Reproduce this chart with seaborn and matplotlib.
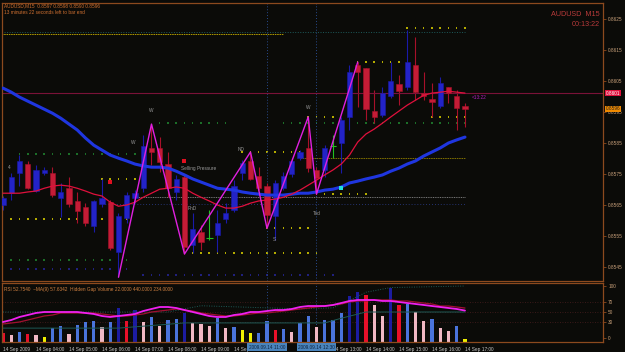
import matplotlib
matplotlib.use("Agg")
import matplotlib.pyplot as plt
import seaborn as sns
import numpy as np
import pandas as pd
from matplotlib.transforms import blended_transform_factory

# AUDUSD M15, 14 Sep 2009 03:00 .. 17:00 (one bar per 15 minutes)
open_ = [0.85650, 0.85688, 0.85753, 0.85782, 0.85695, 0.85753, 0.85753, 0.85672, 0.85704, 0.85663,
         0.85643, 0.85582, 0.85653, 0.85659, 0.85498, 0.85608, 0.85672, 0.85704, 0.85834, 0.85834,
         0.85782, 0.85692, 0.85740, 0.85520, 0.85562, 0.85543, 0.85553, 0.85604, 0.85634, 0.85753,
         0.85792, 0.85743, 0.85711, 0.85615, 0.85704, 0.85750, 0.85801, 0.85834, 0.85763, 0.85763,
         0.85840, 0.85850, 0.85934, 0.86101, 0.86092, 0.85953, 0.85940, 0.86001, 0.86040, 0.86030,
         0.86101, 0.86011, 0.85992, 0.85969, 0.86030, 0.86001, 0.85970]
high = [0.85679, 0.85753, 0.85811, 0.85792, 0.85779, 0.85772, 0.85772, 0.85721, 0.85740, 0.85692,
        0.85656, 0.85666, 0.85734, 0.85666, 0.85624, 0.85692, 0.85698, 0.85875, 0.85911, 0.85869,
        0.85821, 0.85747, 0.85747, 0.85624, 0.85585, 0.85634, 0.85634, 0.85656, 0.85730, 0.85795,
        0.85821, 0.85772, 0.85721, 0.85730, 0.85756, 0.85801, 0.85827, 0.85934, 0.85772, 0.85843,
        0.85875, 0.85934, 0.86101, 0.86111, 0.86092, 0.86021, 0.86030, 0.86111, 0.86069, 0.86214,
        0.86192, 0.86079, 0.86043, 0.86063, 0.86030, 0.86021, 0.85980]
low = [0.85634, 0.85666, 0.85711, 0.85701, 0.85692, 0.85747, 0.85675, 0.85611, 0.85643, 0.85591,
       0.85582, 0.85562, 0.85643, 0.85506, 0.85417, 0.85591, 0.85656, 0.85692, 0.85779, 0.85756,
       0.85675, 0.85666, 0.85492, 0.85495, 0.85506, 0.85537, 0.85498, 0.85591, 0.85627, 0.85730,
       0.85730, 0.85698, 0.85575, 0.85537, 0.85698, 0.85740, 0.85795, 0.85756, 0.85685, 0.85740,
       0.85801, 0.85753, 0.85892, 0.85966, 0.85924, 0.85914, 0.85934, 0.85995, 0.85972, 0.86021,
       0.85988, 0.85988, 0.85934, 0.85963, 0.85979, 0.85892, 0.85900]
close = [0.85672, 0.85740, 0.85792, 0.85704, 0.85763, 0.85763, 0.85682, 0.85692, 0.85653, 0.85630,
         0.85591, 0.85663, 0.85672, 0.85511, 0.85615, 0.85682, 0.85688, 0.85840, 0.85821, 0.85788,
         0.85704, 0.85734, 0.85514, 0.85572, 0.85530, 0.85543, 0.85591, 0.85624, 0.85711, 0.85785,
         0.85734, 0.85704, 0.85617, 0.85721, 0.85743, 0.85792, 0.85821, 0.85769, 0.85737, 0.85834,
         0.85840, 0.85924, 0.86079, 0.86079, 0.85959, 0.85934, 0.86011, 0.86050, 0.86017, 0.86111,
         0.86014, 0.86001, 0.85982, 0.86043, 0.86011, 0.85963, 0.85960]

ma_slow = [0.86027, 0.86014, 0.85998, 0.85985, 0.85972, 0.85959, 0.85946, 0.85930, 0.85911, 0.85892,
           0.85866, 0.85843, 0.85827, 0.85811, 0.85801, 0.85792, 0.85782, 0.85776, 0.85772, 0.85772,
           0.85769, 0.85759, 0.85747, 0.85734, 0.85724, 0.85714, 0.85704, 0.85701, 0.85698, 0.85692,
           0.85688, 0.85685, 0.85682, 0.85682, 0.85682, 0.85685, 0.85688, 0.85688, 0.85692, 0.85698,
           0.85701, 0.85708, 0.85721, 0.85727, 0.85734, 0.85740, 0.85747, 0.85759, 0.85769, 0.85782,
           0.85792, 0.85808, 0.85821, 0.85834, 0.85850, 0.85860, 0.85869]
ma_fast = [0.85688, 0.85688, 0.85688, 0.85692, 0.85695, 0.85704, 0.85711, 0.85714, 0.85711, 0.85704,
           0.85695, 0.85685, 0.85679, 0.85659, 0.85646, 0.85650, 0.85659, 0.85675, 0.85688, 0.85701,
           0.85704, 0.85708, 0.85704, 0.85688, 0.85675, 0.85663, 0.85650, 0.85640, 0.85640, 0.85646,
           0.85656, 0.85663, 0.85666, 0.85669, 0.85675, 0.85685, 0.85698, 0.85714, 0.85730, 0.85747,
           0.85763, 0.85782, 0.85811, 0.85853, 0.85879, 0.85895, 0.85914, 0.85934, 0.85953, 0.85972,
           0.85988, 0.86004, 0.86011, 0.86014, 0.86017, 0.86014, 0.86011]

# zigzag pivots (bar index, price)
zz_bar = [14, 18, 22, 30, 32, 37, 38, 43]
zz_price = [0.85417, 0.85911, 0.85492, 0.85821, 0.85575, 0.85934, 0.85685, 0.86111]

# fractal level dots: price, first bar, last bar, kind
lvl_price = [0.86221, 0.86111, 0.85934, 0.85934, 0.85914, 0.85914, 0.85814, 0.85821,
             0.85734, 0.85685, 0.85604, 0.85575, 0.85495, 0.85472, 0.85443, 0.85424]
lvl_from = [49, 43, 37, 52, 19, 34, 2, 29, 12, 38, 1, 32, 23, 1, 1, 17]
lvl_to = [56, 48, 40, 56, 27, 56, 16, 36, 17, 44, 15, 37, 38, 15, 15, 40]
lvl_kind = ["y", "y", "y", "y", "g", "g", "g", "y", "y", "y", "y", "y", "y", "g", "n", "n"]

# dotted lines: price, from bar, to bar
dl_price = [0.86209, 0.86200, 0.85801, 0.85675, 0.85653]
dl_from = [-0.5, -0.5, 36, 16, 12]
dl_to = [56, 34, 56, 56, 56]

# indicator window
rsi = [30.8, 34.6, 40.4, 44.2, 48.1, 50.0, 50.0, 50.0, 50.0, 50.0,
       48.1, 46.2, 42.3, 40.4, 42.3, 44.2, 46.2, 51.9, 55.8, 59.6,
       59.6, 57.7, 53.8, 50.0, 46.2, 42.3, 40.4, 40.4, 44.2, 46.2,
       50.0, 50.0, 51.9, 53.8, 53.8, 55.8, 59.6, 61.5, 61.5, 61.5,
       63.5, 67.3, 71.2, 73.1, 73.1, 73.1, 71.2, 71.2, 69.2, 67.3,
       65.4, 63.5, 61.5, 59.6, 57.7, 55.8, 52.75]
rsi_ma = [26.9, 28.8, 30.8, 34.6, 38.5, 42.3, 44.2, 48.1, 48.1, 48.1,
          48.1, 48.1, 46.2, 44.2, 42.3, 42.3, 44.2, 46.2, 50.0, 51.9,
          53.8, 55.8, 53.8, 51.9, 48.1, 46.2, 44.2, 42.3, 42.3, 44.2,
          46.2, 48.1, 48.1, 50.0, 51.9, 53.8, 55.8, 57.7, 59.6, 61.5,
          63.5, 65.4, 69.2, 71.2, 71.2, 73.1, 73.1, 73.1, 71.2, 71.2,
          69.2, 67.3, 65.4, 61.5, 61.5, 59.6, 57.63]
gap_vol = [9.6, 5.8, 11.5, 7.7, 5.8, 1.9, 19.2, 23.1, 7.7, 25.0,
           30.8, 32.7, 21.2, 30.8, 57.7, 32.7, 53.8, 30.8, 40.4, 23.1,
           34.6, 36.5, 48.1, 28.8, 26.9, 23.1, 38.5, 19.2, 21.2, 15.4,
           9.6, 9.6, 32.7, 15.4, 17.3, 11.5, 28.8, 42.3, 21.2, 34.6,
           34.6, 48.1, 80.8, 88.5, 82.7, 63.5, 42.3, 96.2, 63.5, 65.4,
           50.0, 32.7, 36.5, 19.2, 13.5, 23.1, -1.9]
gap_kind = list("rpbrpybbpbbbpbnrnpbpbbnpppbpbyybbrbpbbpbbbnnrppnrbppbppby")
band_lo_bar = [0, 14, 22, 39, 41, 44, 56]
band_lo = [19, 19, 29, 29, 38, 50, 50]
band_hi_bar = [0, 20, 24, 36, 40, 42, 44, 47, 56]
band_hi = [50, 50, 62, 56, 58, 72, 88, 97, 100]

# hour labels (11:00 and 12:00 sit under the crosshair boxes)
hour_bar = [0, 4, 8, 12, 16, 20, 24, 28, 40, 44, 48, 52, 56]
hours = ["2009", "04:00", "05:00", "06:00", "07:00", "08:00", "09:00", "10:00",
         "13:00", "14:00", "15:00", "16:00", "17:00"]

BG = "#0b0b08"
FRAME = "#8c4a1e"
TXT = "#c8a07a"
FONT = "Liberation Sans"
FS = 3.4

sns.set_theme(style="dark")
plt.rcParams["font.family"] = [FONT, "DejaVu Sans"]

fig = plt.figure(figsize=(6.25, 3.52), dpi=100)
fig.patch.set_facecolor(BG)
ax = fig.add_axes([2 / 625, 1 - 281 / 352, 601 / 625, 278 / 352])
axi = fig.add_axes([2 / 625, 1 - 342 / 352, 601 / 625, 59 / 352])
for a in (ax, axi):
    a.set_facecolor(BG)
    a.grid(False)
    for s in a.spines.values():
        s.set_color(FRAME)
        s.set_linewidth(0.9)
    a.set_xlim(-0.12, 72.73)

bars = np.arange(len(close))

# level dots and dotted lines
kind_col = {"y": "#b4ac00", "g": "#1c6e28", "n": "#20207e"}
rows = []
for p, a0, a1, k in zip(lvl_price, lvl_from, lvl_to, lvl_kind):
    for b in range(a0, a1 + 1):
        rows.append((b, p, k))
dots = pd.DataFrame(rows, columns=["bar", "price", "kind"])
sns.scatterplot(data=dots, x="bar", y="price", hue="kind", palette=kind_col, marker="s",
                s=1.2, linewidth=0, legend=False, ax=ax, zorder=1)
dl_colors = ["#1d5a5a", "#b09a00", "#807000", "#7a7a7a", "#2a3c88"]
dl_styles = [(0, (1, 1.6)), (0, (1.6, 0.8)), (0, (1.6, 0.8)), (0, (1, 0.8)), (0, (0.8, 2.2))]
for p, a0, a1, c, ls in zip(dl_price, dl_from, dl_to, dl_colors, dl_styles):
    ax.plot([a0, a1], [p, p], color=c, lw=0.7, ls=ls, zorder=1)

# period separators
for a in (ax, axi):
    for b in (32, 38):
        a.axvline(b, color="#284a8c", lw=0.7, ls=(0, (1, 2)), zorder=1)

# candles
o = np.array(open_)
c = np.array(close)
wick_col, body_col = [], []
for oo, cc in zip(o, c):
    if cc > oo:
        wick_col.append("#1a1aa8"); body_col.append("#2323c8")
    elif cc < oo:
        wick_col.append("#a8102a"); body_col.append("#c41c36")
    else:
        wick_col.append("#22c022"); body_col.append("#22c022")
ax.vlines(bars, low, high, colors=wick_col, lw=0.8, zorder=2)
ax.bar(bars, np.abs(c - o), bottom=np.minimum(o, c), width=0.66, color=body_col,
       edgecolor=wick_col, linewidth=0.4, zorder=3)
doji = bars[o == c]
ax.hlines(o[o == c], doji - 0.4, doji + 0.4, colors="#22c022", lw=0.8, zorder=3)

# moving averages and zigzag
sns.lineplot(x=bars, y=ma_slow, color="#1f36e0", lw=2.2, ax=ax, zorder=4)
sns.lineplot(x=bars, y=ma_fast, color="#e0103c", lw=0.9, ax=ax, zorder=4)
sns.lineplot(x=zz_bar, y=zz_price, color="#e020e0", lw=1.0, ax=ax, zorder=5, sort=False)
ax.axhline(0.86011, color="#7a1238", lw=0.8, zorder=2)

# markers and labels on the chart
sns.scatterplot(x=[13, 22], y=[0.85724, 0.85792], color="#e01020", marker="s", s=5,
                linewidth=0, ax=ax, zorder=6)
sns.scatterplot(x=[41], y=[0.85704], color="#20e0e0", marker="s", s=5, linewidth=0, ax=ax, zorder=6)
notes = [("4", 0.7, 0.85772), ("W", 15.8, 0.85853), ("W", 18.0, 0.85956), ("ND", 28.9, 0.85830),
         ("PnD", 22.9, 0.85640), ("S", 32.9, 0.85540), ("W", 37.0, 0.85963), ("Ted", 38.0, 0.85624)]
for t, xb, yp in notes:
    ax.text(xb, yp, t, color="#9a9a9a", fontsize=FS, ha="center", va="center", zorder=6)
ax.text(21.6, 0.85769, "Selling Pressure", color="#9a9a9a", fontsize=FS, ha="left",
        va="center", zorder=6)

ax.set_ylim(0.854048, 0.863016)
ax.yaxis.tick_right()
ax.set_yticks(np.round(np.arange(0.8545, 0.8626, 0.001), 4))
ax.set_yticklabels([f"{v:.4f}" for v in np.arange(0.8545, 0.8626, 0.001)])
ax.set_xticks([])
ax.tick_params(axis="y", length=2.5, width=0.6, pad=1.2, labelsize=FS, color=FRAME,
               labelcolor=TXT)
ax.set_ylabel(""); ax.set_xlabel("")

tr = blended_transform_factory(ax.transAxes, ax.transData)
ax.text(1.004, 0.86011, "0.8601", transform=tr, fontsize=FS, color="white", va="center",
        ha="left", clip_on=False, zorder=10,
        bbox=dict(boxstyle="square,pad=0.15", fc="#e0103c", ec="none"))
ax.text(1.004, 0.85960, "0.8596", transform=tr, fontsize=FS, color="#202020", va="center",
        ha="left", clip_on=False, zorder=10,
        bbox=dict(boxstyle="square,pad=0.15", fc="#f08a00", ec="none"))
ax.text(56.8, 0.85998, "<13:22", fontsize=FS, color="#b020c0", va="center", ha="left", zorder=6)

# indicator window: hidden gap volume, RSI and its MA
vol_col = {"r": "#e8102a", "p": "#f0b8c4", "b": "#4a74dc", "n": "#1c1ca0", "y": "#f0f000"}
base = -7.69
axi.bar(bars, np.array(gap_vol) - base, bottom=base, width=0.4,
        color=[vol_col[k] for k in gap_kind], linewidth=0, zorder=2)
for lv in (30, 50, 70):
    axi.axhline(lv, color="#4a1e1e", lw=0.6, ls=(0, (1, 2)), zorder=1)
sns.lineplot(x=band_lo_bar, y=band_lo, color="#1d5a56", lw=0.7, ax=axi, zorder=3)
sns.lineplot(x=band_hi_bar, y=band_hi, color="#1d5a56", lw=0.7, ls=(0, (1, 1.5)), ax=axi, zorder=3)
sns.lineplot(x=bars, y=rsi_ma, color="#a01030", lw=0.9, ax=axi, zorder=4)
sns.lineplot(x=bars, y=rsi, color="#f020f0", lw=1.3, ax=axi, zorder=5)
axi.set_ylim(base, 105.77)
axi.yaxis.tick_right()
axi.set_yticks([0, 30, 50, 70, 100])
axi.set_yticklabels(["0", "30", "50", "70", "100"])
axi.tick_params(axis="y", length=2.5, width=0.6, pad=1.2, labelsize=FS, color=FRAME,
                labelcolor=TXT)
axi.set_xticks(hour_bar)
axi.set_xticklabels(["14 Sep " + h for h in hours], ha="left")
axi.tick_params(axis="x", length=2.5, width=0.6, pad=0.8, labelsize=FS, color=FRAME,
                labelcolor="#c8c8c8")
axi.set_ylabel(""); axi.set_xlabel("")
axi.text(0.004, 0.93, "RSI 52.7540  ~MA(9) 57.6342  Hidden Gap Volume 22.0000 440.0000 234.0000",
         transform=axi.transAxes, fontsize=FS, color="#d08040", va="top", ha="left")

trx = blended_transform_factory(axi.transData, axi.transAxes)
for b, t in ((32, "2009.09.14 11:00"), (38, "2009.09.14 12:30")):
    axi.text(b, -0.085, t, transform=trx, fontsize=FS, color="#0c2440", ha="center", va="center",
             clip_on=False, zorder=10,
             bbox=dict(boxstyle="square,pad=0.3", fc="#4a84bc", ec="none"))

# header texts
fig.text(4 / 625, 1 - 6 / 352, "AUDUSD,M15  0.8597 0.8598 0.8590 0.8596", fontsize=FS,
         color="#d07030", va="center", ha="left")
fig.text(4 / 625, 1 - 13 / 352, "13 minutes 22 seconds left to bar end", fontsize=FS,
         color="#d07030", va="center", ha="left")
fig.text(600 / 625, 1 - 15 / 352, "AUDUSD  M15", fontsize=5.2, color="#b83a3a", va="center",
         ha="right")
fig.text(600 / 625, 1 - 24 / 352, "00:13:22", fontsize=5.2, color="#b83a3a", va="center",
         ha="right")

fig.savefig("out.png", dpi=100, facecolor=BG)
